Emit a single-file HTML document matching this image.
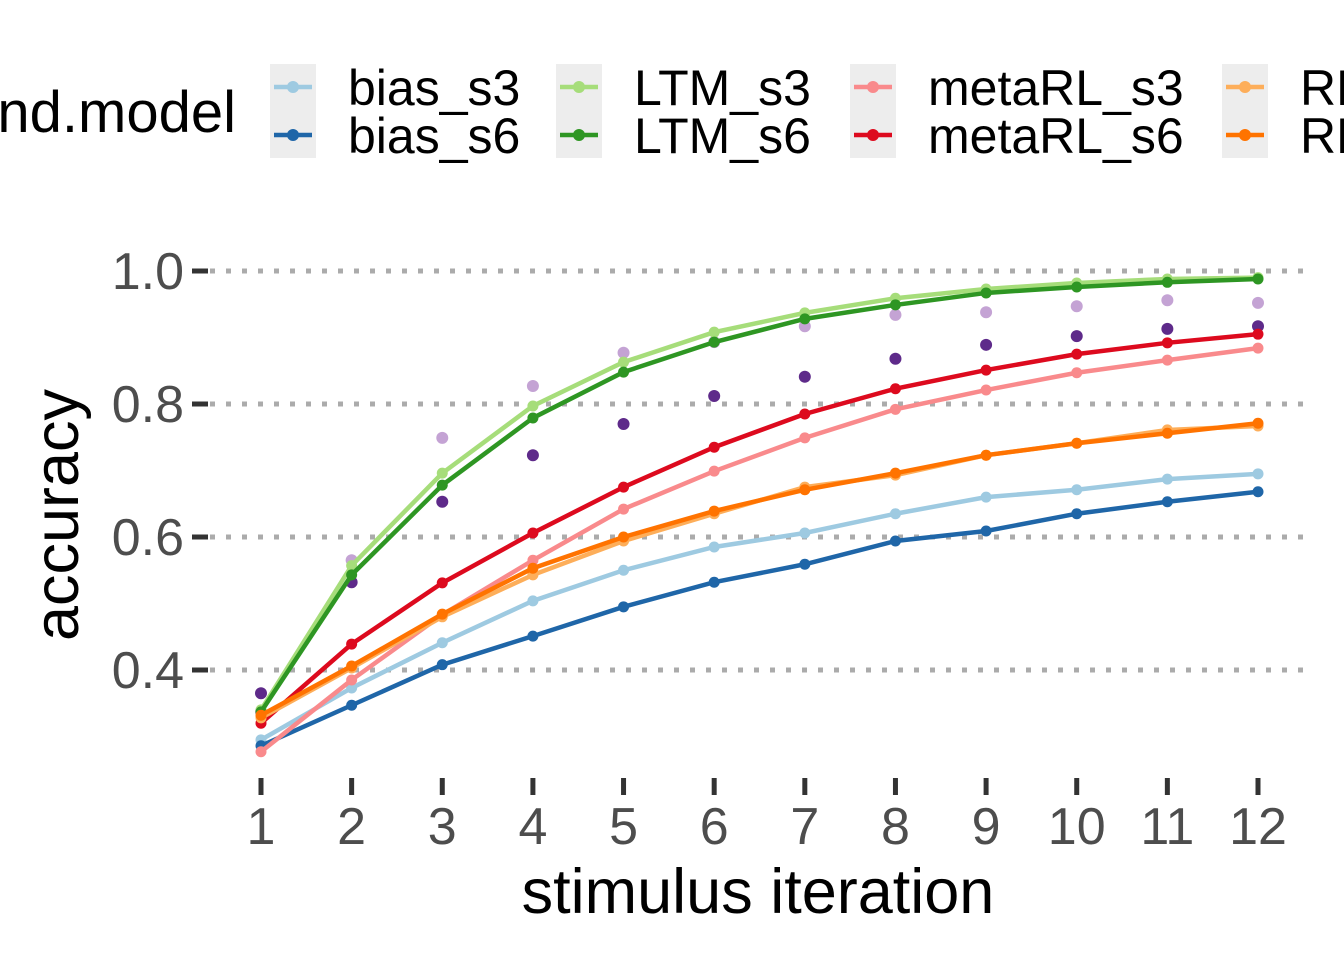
<!DOCTYPE html>
<html><head><meta charset="utf-8"><style>
body{margin:0;background:#fff;}
svg{display:block;font-family:"Liberation Sans",Arial,sans-serif;}
</style></head><body>
<svg id="chart" width="1344" height="960"></svg>
<script>
const iterations=[1,2,3,4,5,6,7,8,9,10,11,12];
const yTicks=[0.4,0.6,0.8,1.0];
const yTickLabels=["0.4","0.6","0.8","1.0"];
const seriesNames=["bias_s3","bias_s6","LTM_s3","LTM_s6","metaRL_s3","metaRL_s6","RL_s3","RL_s6"];
const seriesColors=["#9ECAE1","#1F66A8","#A6DD7A","#2E9623","#F98A8C","#DD0A1E","#FDAE5A","#FF7300"];
const bias_s3=[0.295,0.373,0.441,0.504,0.550,0.585,0.606,0.635,0.660,0.671,0.687,0.695];
const bias_s6=[0.286,0.347,0.408,0.451,0.495,0.532,0.559,0.594,0.609,0.635,0.653,0.668];
const LTM_s3=[0.340,0.557,0.696,0.797,0.863,0.908,0.937,0.959,0.973,0.982,0.988,0.990];
const LTM_s6=[0.337,0.543,0.678,0.779,0.848,0.893,0.928,0.949,0.967,0.976,0.983,0.988];
const metaRL_s3=[0.277,0.385,0.483,0.565,0.642,0.699,0.749,0.792,0.821,0.847,0.866,0.884];
const metaRL_s6=[0.320,0.439,0.531,0.606,0.675,0.735,0.785,0.823,0.851,0.875,0.892,0.905];
const RL_s3=[0.328,0.403,0.480,0.543,0.594,0.635,0.675,0.693,0.723,0.741,0.761,0.767];
const RL_s6=[0.332,0.406,0.484,0.553,0.600,0.639,0.671,0.696,0.723,0.741,0.756,0.771];
const human_s3=[0.337,0.565,0.749,0.827,0.877,0.893,0.917,0.934,0.938,0.947,0.956,0.952];
const human_s6=[0.365,0.532,0.653,0.723,0.770,0.812,0.841,0.868,0.889,0.902,0.913,0.917];
const series=[bias_s3,bias_s6,LTM_s3,LTM_s6,metaRL_s3,metaRL_s6,RL_s3,RL_s6];

const NS="http://www.w3.org/2000/svg";
const svg=document.getElementById('chart');
function el(t,a,p){const e=document.createElementNS(NS,t);for(const k in a)e.setAttribute(k,a[k]);(p||svg).appendChild(e);return e;}
const xS=v=>261+(v-1)*(1258-261)/11;
const yS=v=>271+(1-v)*665;

yTicks.forEach((t,i)=>{
  const g=el('line',{x1:210,x2:1310,y1:yS(t),y2:yS(t),stroke:'#ababab','stroke-width':5,'stroke-dasharray':'5 11'});
  
  const tk=el('line',{x1:192,x2:208,y1:yS(t),y2:yS(t),stroke:'#333','stroke-width':5});
  
  const tx=el('text',{x:184,y:yS(t)+18,'text-anchor':'end','font-size':52,fill:'#4d4d4d'});
  tx.textContent=yTickLabels[i];
  
});
iterations.forEach(v=>{
  const tk=el('line',{x1:xS(v),x2:xS(v),y1:778,y2:795,stroke:'#333','stroke-width':5});
  
  const tx=el('text',{x:xS(v),y:844,'text-anchor':'middle','font-size':52,fill:'#4d4d4d'});
  tx.textContent=v;
  
});
[[human_s3,'#C4A3D4'],[human_s6,'#5E2A8A']].forEach(([d,c])=>{
  d.forEach((v,i)=>{const p=el('circle',{cx:xS(iterations[i]),cy:yS(v),r:6,fill:c});
    });
});
series.forEach((d,s)=>{
  const pl=el('polyline',{points:d.map((v,i)=>xS(iterations[i])+','+yS(v)).join(' '),fill:'none',stroke:seriesColors[s],'stroke-width':4.5});
  
  d.forEach((v,i)=>{const p=el('circle',{cx:xS(iterations[i]),cy:yS(v),r:5.5,fill:seriesColors[s]});
    });
});
const yt=el('text',{x:0,y:0,transform:'translate(78,515) rotate(-90)','text-anchor':'middle','font-size':63,fill:'#000'});
yt.textContent='accuracy';
const xt=el('text',{x:758,y:913,'text-anchor':'middle','font-size':63,fill:'#000'});
xt.textContent='stimulus iteration';
const lt=el('text',{x:236,y:132,'text-anchor':'end','font-size':58,fill:'#000'});
lt.textContent='cond.model';
const cols=[270,556,850,1222];
seriesNames.forEach((n,s)=>{
  const c=Math.floor(s/2),r=s%2,x=cols[c];
  if(r===0){const b=el('rect',{x:x,y:64,width:46,height:94,fill:'#ededed'});
    }
  const ky=87+r*48;
  const ln=el('line',{x1:x+4,x2:x+42,y1:ky,y2:ky,stroke:seriesColors[s],'stroke-width':4.5});
  
  const dt=el('circle',{cx:x+23,cy:ky,r:6,fill:seriesColors[s]});
  
  const tx=el('text',{x:x+78,y:ky+18,'font-size':50,fill:'#000'});
  tx.textContent=n;
});
</script>
</body></html>
